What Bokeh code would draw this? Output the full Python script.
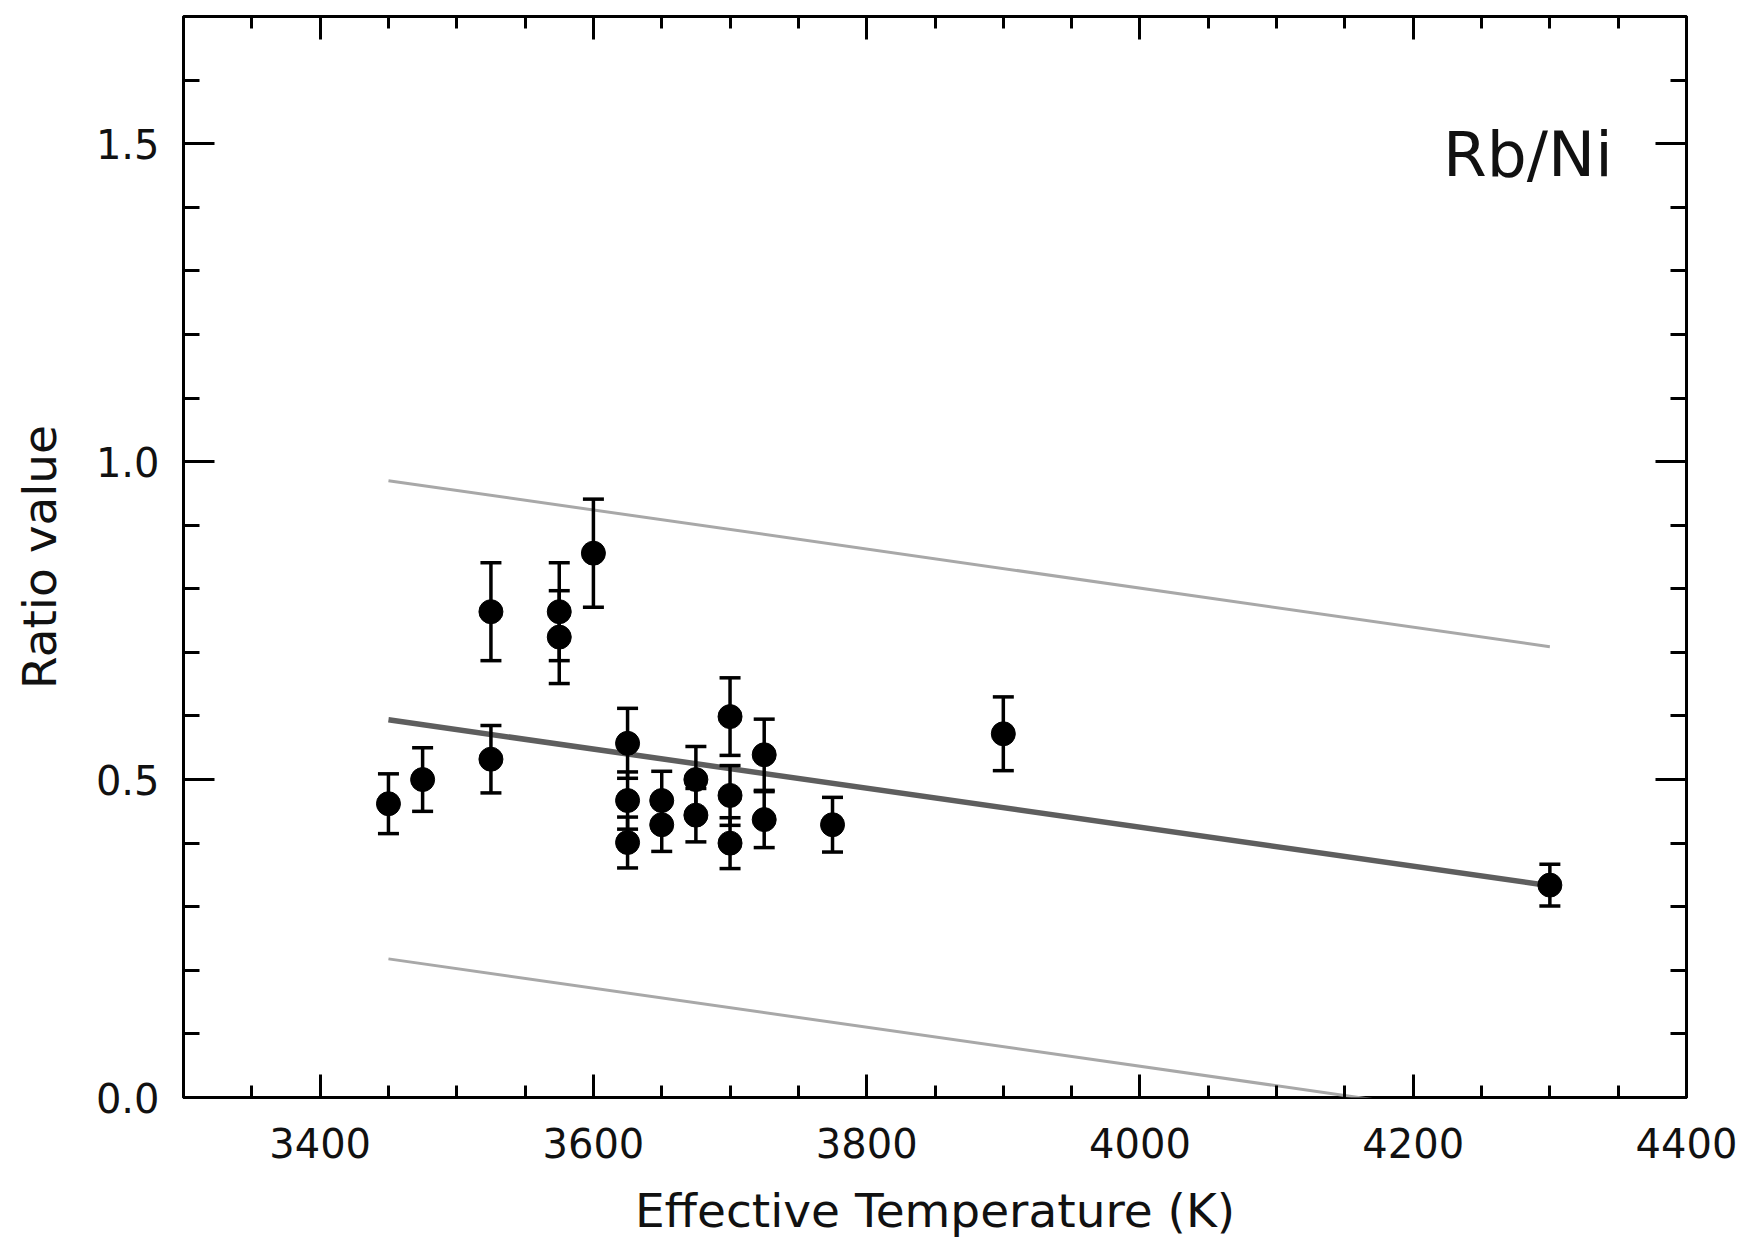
from bokeh.plotting import figure
from bokeh.models import (Range1d, SingleIntervalTicker, LinearAxis, PrintfTickFormatter,
                          Whisker, ColumnDataSource, TeeHead, Label)
from bokeh.embed import file_html
from bokeh.resources import INLINE

# Data
teff = [3450, 3475, 3525, 3525, 3575, 3575, 3600, 3625, 3625, 3625, 3650, 3650,
        3675, 3675, 3700, 3700, 3700, 3725, 3725, 3775, 3900, 4300]
ratio = [0.462, 0.500, 0.764, 0.532, 0.764, 0.724, 0.856, 0.557, 0.467, 0.401, 0.467, 0.429,
         0.500, 0.444, 0.599, 0.475, 0.400, 0.539, 0.437, 0.429, 0.572, 0.334]
err = [0.047, 0.050, 0.077, 0.053, 0.077, 0.073, 0.085, 0.055, 0.045, 0.040, 0.046, 0.042,
       0.052, 0.042, 0.061, 0.047, 0.040, 0.056, 0.044, 0.043, 0.058, 0.033]

fit_teff = [3450, 4300]
fit_ratio = [0.594, 0.333]
upper_ratio = [0.970, 0.709]
lower_ratio = [0.218, -0.043]

x_axis_label = "Effective Temperature (K)"
y_axis_label = "Ratio value"
panel_label = "Rb/Ni"

FONT = "DejaVu Sans"

src = ColumnDataSource(data=dict(
    x=teff, y=ratio,
    lo=[r - e for r, e in zip(ratio, err)],
    hi=[r + e for r, e in zip(ratio, err)],
))

p = figure(frame_width=1503, frame_height=1081,
           x_range=Range1d(3300, 4400), y_range=Range1d(0, 1.7),
           output_backend="svg", toolbar_location=None,
           min_border_left=183, min_border_right=64,
           min_border_top=16, min_border_bottom=145,
           background_fill_color="white", border_fill_color="white")

p.xgrid.visible = False
p.ygrid.visible = False
p.outline_line_color = "black"
p.outline_line_width = 3
p.outline_line_alpha = 1.0

p.xaxis.ticker = SingleIntervalTicker(interval=200, num_minor_ticks=4)
p.yaxis.ticker = SingleIntervalTicker(interval=0.5, num_minor_ticks=5)
p.yaxis.formatter = PrintfTickFormatter(format="%.1f")


def style_axis(ax, is_x, labels=True):
    ax.axis_line_color = None
    ax.major_tick_line_color = "black"
    ax.minor_tick_line_color = "black"
    ax.major_tick_line_width = 3
    ax.minor_tick_line_width = 3
    ax.major_tick_out = 0
    ax.minor_tick_out = 0
    if is_x:
        ax.major_tick_in = 23
        ax.minor_tick_in = 12
    else:
        ax.major_tick_in = 31
        ax.minor_tick_in = 16
    if labels:
        ax.major_label_text_font = FONT
        ax.major_label_text_font_size = "40px"
        ax.major_label_text_color = "#111111"
        ax.axis_label_text_font = FONT
        ax.axis_label_text_font_size = "47px"
        ax.axis_label_text_font_style = "normal"
        ax.axis_label_text_color = "#111111"
    else:
        ax.major_label_text_font_size = "0px"
        ax.major_label_text_color = None


for ax in p.xaxis:
    style_axis(ax, True)
    ax.major_label_standoff = 30
    ax.axis_label = x_axis_label
    ax.axis_label_standoff = 22
for ax in p.yaxis:
    style_axis(ax, False)
    ax.major_label_standoff = 24
    ax.axis_label = y_axis_label
    ax.axis_label_standoff = 26

top = LinearAxis(ticker=SingleIntervalTicker(interval=200, num_minor_ticks=4))
style_axis(top, True, labels=False)
p.add_layout(top, "above")
right = LinearAxis(ticker=SingleIntervalTicker(interval=0.5, num_minor_ticks=5))
style_axis(right, False, labels=False)
p.add_layout(right, "right")

# fit line and band
p.line(fit_teff, upper_ratio, line_color="#a8a8a8", line_width=3)
p.line(fit_teff, lower_ratio, line_color="#a8a8a8", line_width=3)
p.line(fit_teff, fit_ratio, line_color="#5e5e5e", line_width=5.5)

w = Whisker(source=src, base="x", lower="lo", upper="hi", dimension="height",
            line_color="black", line_width=3.5,
            upper_head=TeeHead(size=21, line_width=3.5, line_color="black"),
            lower_head=TeeHead(size=21, line_width=3.5, line_color="black"))
w.level = "glyph"
p.add_layout(w)

p.scatter("x", "y", source=src, size=24, marker="circle",
          fill_color="black", line_color="black")

lab = Label(x=4346, y=1.483, text=panel_label, text_align="right",
            text_baseline="alphabetic", text_font=FONT, text_font_size="63px",
            text_color="#111111")
p.add_layout(lab)

open("out.html", "w").write(file_html(p, INLINE))
